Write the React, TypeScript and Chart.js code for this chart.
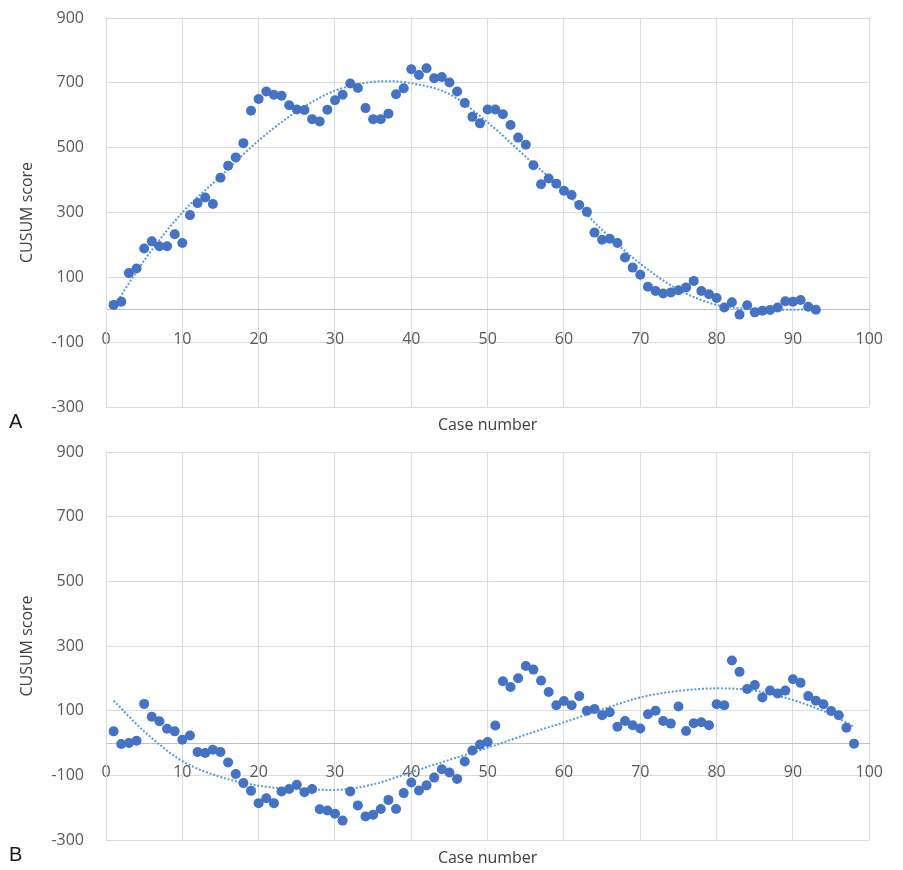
import React, { useEffect, useRef } from "react";
import { Chart, registerables } from "chart.js";

Chart.register(...registerables);

// ---- Data ----
const scoresA = [
  15, 25, 113, 127, 189, 211, 196, 196, 233, 206,
  292, 329, 346, 326, 407, 444, 470, 514, 614, 650,
  673, 663, 660, 631, 618, 616, 588, 581, 617, 646,
  663, 698, 684, 622, 588, 588, 605, 665, 683, 742,
  724, 745, 714, 718, 701, 673, 638, 595, 575, 618,
  618, 603, 570, 531, 509, 446, 387, 405, 389, 367,
  354, 323, 302, 238, 216, 219, 206, 161, 130, 108,
  71, 58, 50, 53, 60, 69, 89, 58, 48, 36,
  7, 23, -15, 14, -8, -3, -1, 7, 26, 25,
  30, 9, 0,
];

const scoresB = [
  36, -3, 0, 7, 121, 81, 67, 44, 36, 10,
  23, -28, -31, -21, -28, -60, -96, -124, -148, -186,
  -171, -186, -150, -142, -129, -152, -142, -205, -209, -219,
  -240, -150, -193, -227, -222, -204, -176, -204, -155, -122,
  -147, -131, -107, -81, -91, -111, -57, -23, -5, 3,
  54, 191, 173, 200, 238, 227, 193, 158, 117, 130,
  117, 145, 100, 105, 86, 95, 50, 68, 55, 45,
  89, 100, 68, 60, 113, 37, 61, 64, 55, 120,
  117, 255, 220, 167, 179, 141, 162, 153, 162, 197,
  186, 145, 131, 120, 99, 86, 47, -2,
];

// dotted trend lines
const trendXA = [1, 5, 10, 15, 20, 25, 30, 35, 37, 40, 45, 50, 55, 60, 65, 70, 75, 80, 85, 90, 93];
const trendYA = [8, 152, 300, 412, 522, 612, 676, 703, 705, 699, 665, 578, 472, 367, 246, 142, 62, 15, 2, 0, 3];

const trendXB = [1, 5, 10, 15, 20, 25, 30, 35, 40, 45, 50, 55, 60, 65, 70, 75, 80, 85, 90, 95, 98];
const trendYB = [131, 36, -56, -105, -132, -143, -145, -128, -90, -52, -15, 26, 64, 104, 141, 161, 169, 162, 133, 88, 50];

const yTickValues = [-300, -100, 100, 300, 500, 700, 900];
const yMin = -300;
const yMax = 900;
const xMin = 0;
const xMax = 100;
const xStep = 10;
const yTitle = "CUSUM score";
const xTitle = "Case number";

// ---- Styling ----
const W = 903;
const PANEL_H = 435;
const FONT = "'Open Sans', 'Noto Sans', sans-serif";
const GRID = "#d7dde1";
const ZERO = "#bcc2c6";
const TICK_COLOR = "#595959";
const TITLE_COLOR = "#404040";
const POINT = "#4472c4";
const TREND = "#5b9bd5";

type PanelProps = {
  scores: number[];
  trendX: number[];
  trendY: number[];
  areaTop: number;
  areaBottom: number;
  titlePadBottom: number;
};

function Panel(p: PanelProps) {
  const ref = useRef<HTMLCanvasElement>(null);
  useEffect(() => {
    const points = p.scores.map((y, i) => ({ x: i + 1, y }));
    const trend = p.trendX.map((x, i) => ({ x, y: p.trendY[i] }));
    const font = { family: FONT, size: 16 };
    const chart = new Chart(ref.current as HTMLCanvasElement, {
      type: "scatter",
      data: {
        datasets: [
          {
            data: points,
            backgroundColor: POINT,
            borderColor: POINT,
            pointRadius: 5,
            pointBorderWidth: 0,
            order: 0,
          },
          {
            data: trend,
            showLine: true,
            pointRadius: 0,
            borderColor: TREND,
            borderWidth: 2,
            borderDash: [2, 1.8],
            cubicInterpolationMode: "monotone",
            order: 1,
          } as any,
        ],
      },
      options: {
        animation: false,
        responsive: false,
        devicePixelRatio: 1,
        events: [],
        layout: { padding: { left: 0, right: 19, top: p.areaTop, bottom: 0 } },
        plugins: { legend: { display: false }, tooltip: { enabled: false } },
        scales: {
          x: {
            type: "linear",
            position: { y: 0 } as any,
            min: xMin,
            max: xMax,
            ticks: {
              stepSize: xStep,
              padding: 20,
              color: TICK_COLOR,
              font,
              maxRotation: 0,
              autoSkip: false,
            },
            grid: { color: GRID, drawTicks: false, lineWidth: 1 },
            border: { display: true, color: ZERO, width: 1 },
          },
          y: {
            type: "linear",
            position: "left",
            min: yMin,
            max: yMax,
            afterBuildTicks: (s: any) => {
              s.ticks = yTickValues.map((v) => ({ value: v }));
            },
            afterFit: (s: any) => {
              s.width = 106;
              s.paddingTop = 0;
              s.paddingBottom = 0;
            },
            ticks: { padding: 22, color: TICK_COLOR, font },
            grid: { color: GRID, drawTicks: false },
            border: { display: true, color: GRID },
            title: {
              display: true,
              text: yTitle,
              color: TITLE_COLOR,
              font,
              padding: { top: 18, bottom: 0 },
            },
          },
          x2: {
            type: "linear",
            axis: "x",
            position: "bottom",
            min: xMin,
            max: xMax,
            afterFit: (s: any) => {
              s.height = PANEL_H - p.areaBottom;
              s.paddingLeft = 0;
              s.paddingRight = 0;
            },
            ticks: { display: false },
            grid: { display: false, drawTicks: false },
            border: { display: false },
            title: {
              display: true,
              text: xTitle,
              color: TITLE_COLOR,
              font,
              padding: { top: 0, bottom: p.titlePadBottom },
            },
          } as any,
        },
      },
    });
    return () => chart.destroy();
  }, []);
  return (
    <canvas
      ref={ref}
      width={W}
      height={PANEL_H}
      style={{ display: "block", width: W, height: PANEL_H }}
    />
  );
}

const letterStyle: React.CSSProperties = {
  position: "absolute",
  fontFamily: "'Liberation Sans', Arial, sans-serif",
  fontSize: 20,
  lineHeight: "20px",
  color: "#1a1a1a",
};

export default function App() {
  return (
    <div
      style={{
        position: "absolute",
        left: 0,
        top: 0,
        width: W,
        height: 870,
        background: "#ffffff",
        overflow: "hidden",
      }}
    >
      <div style={{ position: "absolute", left: 0, top: 0 }}>
        <Panel scores={scoresA} trendX={trendXA} trendY={trendYA} areaTop={18} areaBottom={407} titlePadBottom={0} />
      </div>
      <div style={{ position: "absolute", left: 0, top: 435 }}>
        <Panel scores={scoresB} trendX={trendXB} trendY={trendYB} areaTop={17} areaBottom={405} titlePadBottom={2} />
      </div>
      <div style={{ ...letterStyle, left: 9, top: 411 }}>A</div>
      <div style={{ ...letterStyle, left: 9, top: 844 }}>B</div>
    </div>
  );
}
